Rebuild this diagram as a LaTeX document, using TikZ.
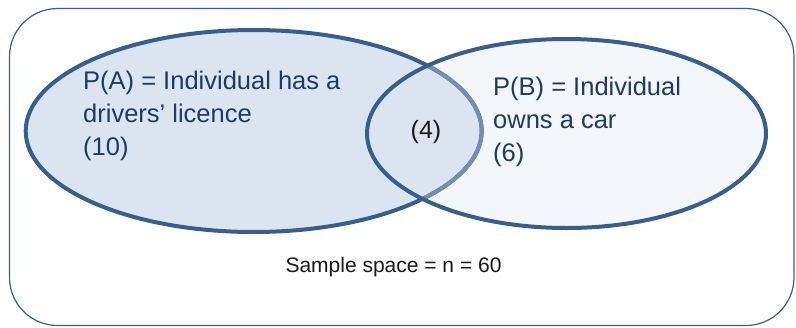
\documentclass[tikz,border=0pt]{standalone}
\usepackage{fontspec}
\setmainfont{Liberation Sans}
\definecolor{edgeblue}{HTML}{3A5E8C}
\definecolor{fillA}{HTML}{DBE5F1}
\definecolor{fillB}{HTML}{F3F6FA}
\definecolor{txtnavy}{HTML}{1F3B5E}
\begin{document}
\begin{tikzpicture}[x=1pt,y=-1pt,
  setline/.style={line width=4pt,draw=edgeblue},
  settext/.style={inner sep=0pt,align=left,text=txtnavy,font=\fontsize{25.5}{33}\selectfont},
  smalltext/.style={inner sep=0pt,text=black!90,font=\fontsize{21}{25}\selectfont}]
\useasboundingbox (0,0) rectangle (796,327);
% sample space
\draw[edgeblue,line width=1.2pt,rounded corners=48pt] (9.5,8.5) rectangle (794,325.5);
% fills
\fill[fillB] (566.5,133.5) ellipse [x radius=199.5, y radius=94.5];
\fill[fillA] (253.7,131) ellipse [x radius=228, y radius=101];
\draw[setline] (253.7,131) ellipse [x radius=228, y radius=101];
\begin{scope}
  \clip (566.5,133.5) ellipse [x radius=199.5, y radius=94.5];
  \draw[line width=4pt,draw=edgeblue!70!white] (253.7,131) ellipse [x radius=228, y radius=101];
\end{scope}
\draw[setline] (566.5,133.5) ellipse [x radius=199.5, y radius=94.5];
% texts
\node[settext,anchor=base west] (ta) at (83,155) {P(A) = Individual has a\\drivers’ licence\\(10)};
\node[settext,anchor=base west] (tb) at (493,161) {P(B) = Individual\\owns a car\\(6)};
\node[inner sep=0pt,text=black!90,font=\fontsize{25}{30}\selectfont,anchor=base] (tab) at (426,138) {(4)};
\node[smalltext,anchor=base] (ts) at (393.5,272) {Sample space = n = 60};
\end{tikzpicture}
\end{document}
